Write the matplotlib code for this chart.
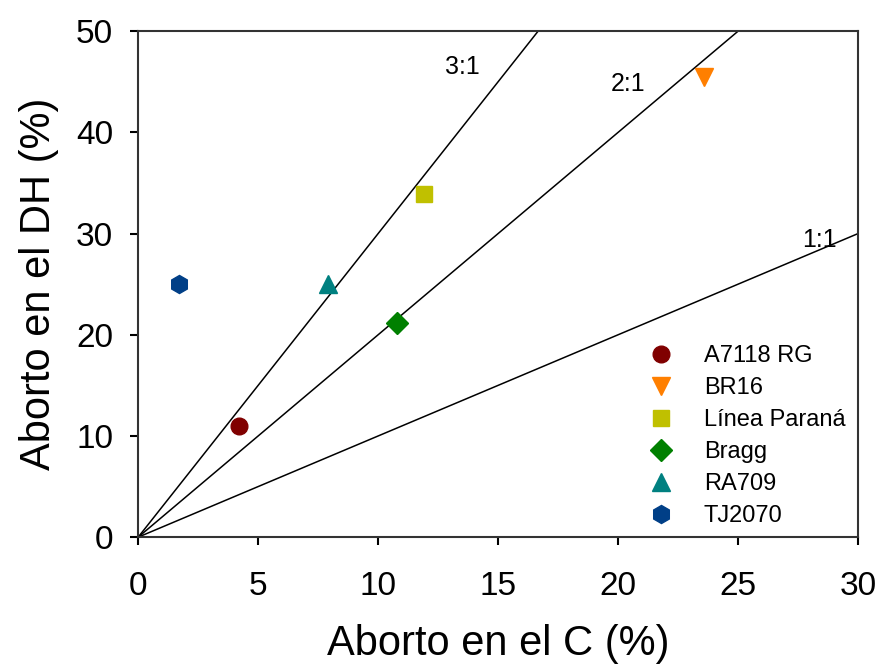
import matplotlib
matplotlib.use("Agg")
import matplotlib.pyplot as plt
import numpy as np

plt.rcParams["font.family"] = ["Liberation Sans", "DejaVu Sans"]

# data
cultivares = ["A7118 RG", "BR16", "Línea Paraná", "Bragg", "RA709", "TJ2070"]
aborto_c = [4.2, 23.6, 11.9, 10.8, 7.9, 1.7]
aborto_dh = [11.0, 45.5, 33.9, 21.2, 25.0, 25.0]
marcadores = ["o", "v", "s", "D", "^", "h"]
colores = ["#800000", "#ff7f00", "#c0c000", "#008000", "#008080", "#003f87"]
tamanos = [12, 13, 12, 11, 13, 13]

# reference lines (slope) and their labels
pendientes = [3, 2, 1]
etiquetas_lineas = ["3:1", "2:1", "1:1"]
pos_etiquetas = [(13.5, 46.5), (20.4, 44.8), (28.4, 29.4)]

fig = plt.figure(figsize=(8.8, 6.64), dpi=100)
ax = fig.add_axes([0.157, 0.191, 0.818, 0.762])

x_line = np.array([0, 30])
for m in pendientes:
    ax.plot(x_line, m * x_line, color="black", lw=1.1, zorder=1)
for txt, (tx, ty) in zip(etiquetas_lineas, pos_etiquetas):
    ax.text(tx, ty, txt, fontsize=18, ha="center", va="center",
            family="Liberation Sans")

for nombre, x, y, mk, c, s in zip(cultivares, aborto_c, aborto_dh, marcadores, colores, tamanos):
    ax.plot(x, y, linestyle="none", marker=mk, color=c, markersize=s,
            markeredgecolor=c, label=nombre, zorder=3)

ax.set_xlim(0, 30)
ax.set_ylim(0, 50)
ax.set_xticks(range(0, 31, 5))
ax.set_yticks(range(0, 51, 10))
ax.tick_params(labelsize=24, length=6, width=1.5, direction="out")
ax.tick_params(axis="x", pad=18)
ax.tick_params(axis="y", pad=12)
for sp in ax.spines.values():
    sp.set_linewidth(1.5)
    sp.set_color("#333333")

ax.set_xlabel("Aborto en el C (%)", fontsize=30, labelpad=16)
ax.set_ylabel("Aborto en el DH (%)", fontsize=30, labelpad=12)

ax.legend(loc="lower right", bbox_to_anchor=(1.012, -0.022), frameon=False,
          fontsize=17, handletextpad=0.8, labelspacing=0.42,
          borderaxespad=0.5, markerscale=1.0)

plt.savefig("out.png", dpi=100)
